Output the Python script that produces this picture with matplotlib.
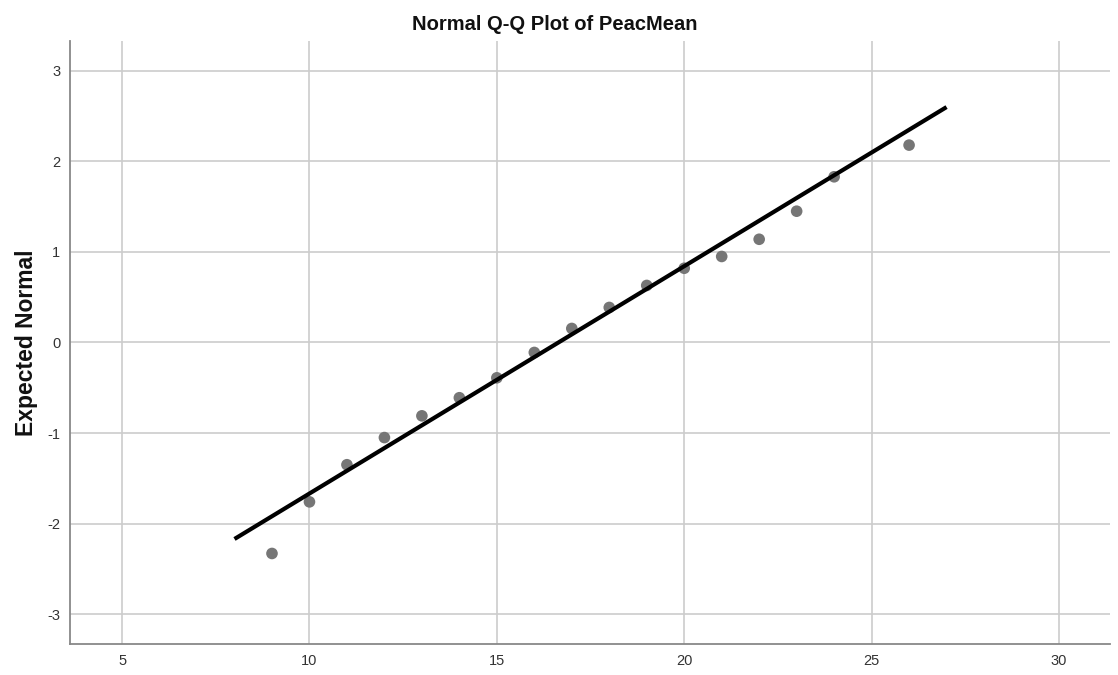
import numpy as np
import matplotlib.pyplot as plt

plt.rcParams['font.family'] = ['Liberation Sans', 'DejaVu Sans']
plt.rcParams['axes.unicode_minus'] = False

# observed values and expected normal quantiles
observed = [9, 10, 11, 12, 13, 14, 15, 16, 17, 18, 19, 20, 21, 22, 23, 24, 26]
expected = [-2.33, -1.76, -1.35, -1.05, -0.81, -0.61, -0.39, -0.11, 0.155,
            0.387, 0.63, 0.82, 0.95, 1.14, 1.45, 1.83, 2.18]

# reference line endpoints
line_x = [8, 27]
line_y = [-2.17, 2.60]

x_ticks = [5, 10, 15, 20, 25, 30]
y_ticks = [-3, -2, -1, 0, 1, 2, 3]

fig = plt.figure(figsize=(11.18, 6.75), dpi=100)
ax = fig.add_axes([0.0626, 0.0459, 0.9302, 0.8934])

ax.set_xlim(3.61, 31.36)
ax.set_ylim(-3.33, 3.33)
ax.set_xticks(x_ticks)
ax.set_yticks(y_ticks)
ax.grid(True, color='#cccccc', linewidth=1.2)
ax.set_axisbelow(True)

ax.scatter(observed, expected, s=70, color='#767676', edgecolors='none', zorder=3)
ax.plot(line_x, line_y, color='black', linewidth=3.0, solid_capstyle='butt', zorder=4)

for side in ['top', 'right']:
    ax.spines[side].set_visible(False)
for side in ['left', 'bottom']:
    ax.spines[side].set_color('#888888')
    ax.spines[side].set_linewidth(1.3)

ax.tick_params(length=0, labelsize=10.5, colors='#333333', pad=7)
ax.set_ylabel('Expected Normal', fontsize=16.5, fontweight='bold', labelpad=7, color='#111111')
ax.set_title('Normal Q-Q Plot of PeacMean', fontsize=14.5, fontweight='bold', pad=8,
             color='#111111', x=0.466)

plt.savefig('out.png', dpi=100)
plt.close()
